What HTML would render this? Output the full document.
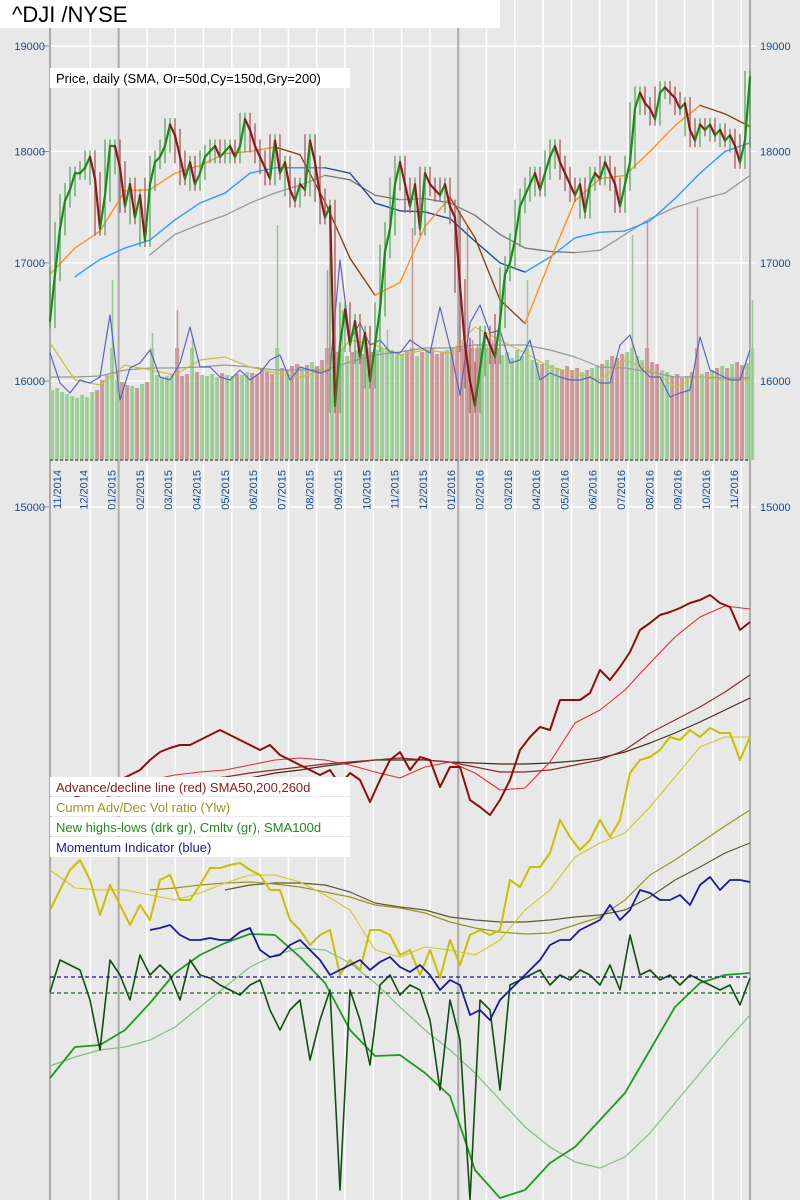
<!DOCTYPE html>
<html><head><meta charset="utf-8"><style>
html,body{margin:0;padding:0;background:#e8e8e8;}
svg{display:block;font-family:"Liberation Sans",sans-serif;}
</style></head><body>
<svg id="chart" width="800" height="1200" viewBox="0 0 800 1200" xmlns="http://www.w3.org/2000/svg">
<rect x="0" y="0" width="800" height="1200" fill="#e8e8e8"/>
<g id="grid"></g>
<g id="vol"></g>
<g id="lines"></g>
<g id="labels"></g>
<rect x="0" y="0" width="500" height="28" fill="#fff"/>
<text x="12" y="22" font-size="22" fill="#000">^DJI /NYSE</text>
<rect x="50" y="68" width="300" height="20" fill="#fff"/>
<text x="56" y="83" font-size="13" fill="#000">Price, daily (SMA, Or=50d,Cy=150d,Gry=200)</text>
<g>
<rect x="50" y="777" width="300" height="19" fill="#fff"/>
<rect x="50" y="797" width="300" height="19" fill="#fff"/>
<rect x="50" y="817" width="300" height="19" fill="#fff"/>
<rect x="50" y="837" width="300" height="20" fill="#fff"/>
<text x="56" y="792" font-size="13" fill="#8b1a1a">Advance/decline line (red) SMA50,200,260d</text>
<text x="56" y="812" font-size="13" fill="#9a9420">Cumm Adv/Dec Vol ratio (Ylw)</text>
<text x="56" y="832" font-size="13" fill="#1f8a1f">New highs-lows (drk gr), Cmltv (gr), SMA100d</text>
<text x="56" y="852" font-size="13" fill="#1a1a90">Momentum Indicator (blue)</text>
</g>
</svg>
<script>
// ---- data ----
const months = ['11/2014','12/2014','01/2015','02/2015','03/2015','04/2015','05/2015','06/2015','07/2015','08/2015','09/2015','10/2015','11/2015','12/2015','01/2016','02/2016','03/2016','04/2016','05/2016','06/2016','07/2016','08/2016','09/2016','10/2016','11/2016'];
const priceTicks = [19000,18000,17000,16000,15000];
const price = [16500,16900,17300,17550,17650,17800,17800,17850,17950,17750,
17300,17600,18050,18050,17850,17500,17700,17400,17600,17200,
17700,17900,17950,18050,18250,18150,17950,17750,17900,17700,
17800,17950,18000,18050,17950,18000,18050,17950,18050,18300,
18200,18050,17950,17850,17750,18100,17800,17900,17650,17550,
17700,17650,18100,17900,17600,17400,17500,15800,16300,16600,
16300,16500,16200,16400,16000,16300,16600,17100,17300,17700,
17900,17700,17500,17700,17300,17800,17700,17650,17600,17700,
17500,17400,16800,16300,16000,15800,16100,16400,16300,16200,
16500,16900,17000,17200,17500,17600,17700,17800,17650,17800,
17950,18050,17900,17800,17700,17600,17700,17450,17700,17800,
17750,17900,17800,17700,17500,17700,17900,18400,18550,18450,
18400,18300,18550,18600,18550,18500,18400,18450,18200,18100,
18250,18200,18250,18150,18200,18100,18150,18050,17900,18100,
18700];
const volume = [70,72,68,66,64,62,65,63,68,70,
80,85,180,80,78,75,74,72,76,78,
127,85,82,84,86,150,84,86,120,88,
85,84,86,83,87,85,84,86,85,88,
87,86,90,88,86,235,92,90,94,96,
92,95,98,94,100,190,105,108,150,104,
108,110,106,112,108,110,112,130,110,108,
106,110,232,104,108,110,112,106,108,110,
112,115,118,235,120,116,118,114,120,112,
105,108,102,110,104,180,100,98,96,100,
95,92,90,94,90,92,88,90,92,94,
96,100,104,102,106,108,225,104,100,240,
98,96,90,88,84,86,82,84,88,253,
86,88,90,92,94,92,96,98,95,97,
160];
const sma50 = [16900,17130,17280,17640,17650,17800,17870,17980,18000,18040,17970,17540,17040,16720,16830,17320,17580,17220,16680,16480,17020,17550,17750,17780,18000,18240,18430,18350,18230];
const sma150 = [16880,17030,17130,17200,17380,17530,17620,17800,17850,17850,17850,17800,17530,17460,17450,17390,17190,17000,16920,17050,17220,17270,17280,17370,17570,17800,18000,18080];
const sma200 = [17070,17250,17340,17420,17530,17620,17690,17780,17740,17600,17560,17570,17530,17420,17250,17130,17100,17090,17110,17250,17390,17490,17560,17620,17780];
const volIndicator = [107,77,67,80,77,83,145,60,92,97,110,83,80,97,133,93,93,83,80,90,80,87,100,105,80,93,90,87,90,200,120,137,115,120,108,107,120,113,107,153,113,65,137,155,127,130,97,100,120,80,87,83,80,80,83,77,77,115,125,93,83,83,63,67,70,123,90,85,80,80,110];
const volAvgYellow = [117,80,75,95,90,85,100,103,93,87,83,90,120,115,105,110,107,133,120,107,93,87,80,100,90,73,83,80,80];
const volAvgGray = [83,83,84,90,92,92,93,95,93,90,90,90,98,105,108,112,112,115,115,115,110,103,93,92,88,83,83,82,82];
const adLine = [395,400,400,405,410,410,415,420,425,430,440,448,452,455,455,460,465,470,465,460,455,450,455,445,440,435,430,425,430,415,427,420,398,420,440,448,430,443,440,413,433,433,400,393,385,400,420,450,463,473,470,500,500,500,507,530,520,533,548,570,577,585,588,592,597,600,605,597,593,570,578];
const adSma50 = [390,395,400,410,420,425,428,430,435,440,442,440,435,428,422,433,438,427,410,412,438,477,490,510,537,563,583,594,591];
const adSma200 = [410,415,420,423,427,430,433,436,438,440,442,440,438,433,428,428,430,435,440,450,467,480,493,508,525];
const adSma260 = [418,422,427,430,434,437,440,440,440,438,437,436,436,437,439,442,448,457,467,478,490,502];
const volRatio = [290,310,330,340,320,285,315,295,275,295,280,320,325,300,300,315,332,332,335,337,330,325,310,310,280,270,255,265,270,225,240,230,270,270,265,245,250,225,250,222,260,235,265,270,265,270,320,313,333,333,347,380,363,350,360,380,363,380,427,440,443,450,463,460,470,463,472,467,467,440,463];
const volRatioSma = [330,312,310,310,305,300,307,317,325,325,318,305,290,250,243,253,250,245,260,290,310,343,357,367,393,423,453,463,463];
const volRatioLong1 = [310,312,315,317,318,316,313,308,303,295,292,287,278,272,268,266,267,275,283,300,325,340,357,374,390];
const volRatioLong2 = [310,315,317,317,315,308,297,293,290,283,280,278,278,280,283,285,290,303,320,333,347,357];
const newHighsLows = [208,240,235,230,200,150,240,225,200,245,225,235,225,200,240,225,222,215,210,205,215,220,190,170,190,200,140,180,210,10,210,180,135,215,225,205,215,210,180,110,200,160,0,200,190,110,215,220,225,230,215,225,220,230,225,215,235,210,265,225,230,220,225,215,225,220,215,210,215,195,222];
const nhnlCumulative = [122,153,155,170,197,227,245,257,266,265,243,217,170,144,145,127,104,30,2,10,37,53,80,107,150,193,217,225,227];
const nhnlSma100 = [134,143,150,153,160,173,193,213,233,245,252,250,237,217,193,170,150,127,100,73,53,38,32,43,67,97,127,157,185];
const momentum = [270,272,275,265,260,260,262,260,260,268,272,250,243,245,255,260,250,240,225,230,235,240,230,238,243,233,228,235,225,210,220,215,185,190,180,200,210,220,230,240,255,260,260,270,275,280,295,280,290,310,307,300,300,305,295,315,323,310,320,320,318];

// ---- scales ----
const X0 = 50, X1 = 750, UNITS = 140;
function xScale(t){ return X0 + (X1 - X0) * t / UNITS; }
const LN_TOP = Math.log(19000);
function yPrice(p){ return 46 + 1950 * (LN_TOP - Math.log(p)); }
function yVol(v){ return 460 - v; }
function yLow(v){ return 1200 - v; }
function monthX(k){ return 62 + 28.3 * k; }
const VOL_BODY_MAX = 112;

const NS = 'http://www.w3.org/2000/svg';
function mk(tag, attrs, parent){
  const e = document.createElementNS(NS, tag);
  for (const k in attrs) e.setAttribute(k, attrs[k]);
  parent.appendChild(e);
  return e;
}
const grid = document.getElementById('grid');
const volG = document.getElementById('vol');
const lines = document.getElementById('lines');
const labels = document.getElementById('labels');

priceTicks.forEach(function(p){
  const y = yPrice(p);
  const l = mk('line', {x1:42, x2:756, y1:y, y2:y, stroke:'#fff', 'stroke-width':1.5}, grid);
  
  
  const tl = mk('line', {x1:42, x2:50, y1:y, y2:y, stroke:'#888', 'stroke-width':1}, grid);
  
  
  const t1 = mk('text', {x:45, y:y+4, 'font-size':11, fill:'#1a4a8a', 'text-anchor':'end'}, labels);
  t1.textContent = p;
  
  
  const t2 = mk('text', {x:760, y:y+4, 'font-size':11, fill:'#1a4a8a'}, labels);
  t2.textContent = p;
  
  
});
months.forEach(function(m, k){
  const x = monthX(k);
  if (k > 0) {
    const isYear = m.indexOf('01/') === 0;
    const l = mk('line', {x1:x, x2:x, y1:0, y2:1200, stroke:isYear ? '#aaa' : '#fff', 'stroke-width':isYear ? 2 : 1.5}, grid);
    
    
  }
  const t = mk('text', {x:0, y:0, 'font-size':11, fill:'#1a4a8a', 'text-anchor':'end', transform:'translate(' + (x + (k === 0 ? -1 : -3)) + ',470) rotate(-90)'}, labels);
  t.textContent = m;
  
  
});
[X0, X1].forEach(function(x){
  const l = mk('line', {x1:x, x2:x, y1:0, y2:1200, stroke:'#aaa', 'stroke-width':2}, grid);
  
  
});

// volume bars
volume.forEach(function(v, i){
  const up = i === 0 ? true : price[i] >= price[i-1];
  const x = xScale(i);
  const w = xScale(i+1) - x;
  const body = Math.min(v, VOL_BODY_MAX);
  const col = up ? '#a8d3a4' : '#cfa2a2';
  const r = mk('rect', {x:x, y:yVol(body), width:w-0.8, height:body, fill:col}, volG);
  
  
  const s = mk('line', {x1:x+w/2, x2:x+w/2, y1:yVol(0), y2:yVol(v), stroke:up ? '#98c894' : '#c89494', 'stroke-width':1.5}, volG);
  
  
});
const vb = mk('line', {x1:X0, x2:X1, y1:yVol(0), y2:yVol(0), stroke:'#777', 'stroke-width':2, 'stroke-dasharray':'3,2'}, volG);



function poly(vals, unitStep, startUnit, yf, color, width, name, opacity){
  const pts = vals.map(function(v, i){ return xScale(startUnit + i*unitStep).toFixed(1) + ',' + yf(v).toFixed(1); }).join(' ');
  const p = mk('polyline', {points:pts, fill:'none', stroke:color, 'stroke-width':width, 'stroke-linejoin':'round', opacity:opacity || 1}, lines);
  
  
  return p;
}
function slopeColored(vals, unitStep, startUnit, yf, upColor, downColor, width, name){
  for (let i = 1; i < vals.length; i++) {
    const c = vals[i] >= vals[i-1] ? upColor : downColor;
    const s = mk('line', {x1:xScale(startUnit+(i-1)*unitStep), y1:yf(vals[i-1]), x2:xScale(startUnit+i*unitStep), y2:yf(vals[i]), stroke:c, 'stroke-width':width, 'stroke-linecap':'round'}, lines);
    
    
  }
}

poly(volAvgGray, 5, 0, yVol, '#999', 1.2, 'volume-avg-gray');
poly(volAvgYellow, 5, 0, yVol, '#c8c040', 1.2, 'volume-avg-yellow');
poly(volIndicator, 2, 0, yVol, '#5a64c0', 1.2, 'volume-indicator-blue');

slopeColored(sma200, 5, 20, yPrice, '#999', '#777', 1.3, 'sma200-line');
slopeColored(sma150, 5, 5, yPrice, '#3399ff', '#1f4f8f', 1.4, 'sma150-line');
slopeColored(sma50, 5, 0, yPrice, '#ff9020', '#8b4513', 1.4, 'sma50-line');

// price range bars (derived from neighbouring closes)
price.forEach(function(p, i){
  const a = i > 0 ? price[i-1] : p;
  const b = i < price.length - 1 ? price[i+1] : p;
  const hi = Math.max(p, a, b) + 60, lo = Math.min(p, a, b) - 60;
  const up = i === 0 ? true : p >= a;
  const xm = (xScale(i) + xScale(i+1)) / 2 - 2.5;
  const r = mk('line', {x1:xm, x2:xm, y1:yPrice(hi), y2:yPrice(lo), stroke:up ? '#5aa85a' : '#a85a5a', 'stroke-width':1.6, opacity:0.8}, lines);
  
  
});
slopeColored(price, 1, 0, yPrice, '#1a8a1a', '#8b1a1a', 2.2, 'price-bar');

poly(adSma260, 5, 35, yLow, '#4a2a1a', 1.2, 'ad-sma260');
poly(adSma200, 5, 20, yLow, '#8b2a2a', 1.2, 'ad-sma200');
poly(adSma50, 5, 0, yLow, '#e03030', 1.1, 'ad-sma50');
poly(adLine, 2, 0, yLow, '#8b0f0f', 2, 'advance-decline-line');
poly(volRatioLong2, 5, 35, yLow, '#5a5a30', 1.2, 'vol-ratio-long-sma2');
poly(volRatioLong1, 5, 20, yLow, '#9a9420', 1.2, 'vol-ratio-long-sma1');
poly(volRatioSma, 5, 0, yLow, '#d0c820', 1.1, 'vol-ratio-sma');
poly(volRatio, 2, 0, yLow, '#c8c000', 2, 'cumm-adv-dec-vol-ratio');
poly(nhnlSma100, 5, 0, yLow, '#80c080', 1.2, 'new-highs-lows-sma100');
poly(nhnlCumulative, 5, 0, yLow, '#1f9a1f', 1.8, 'new-highs-lows-cumulative');
poly(newHighsLows, 2, 0, yLow, '#0f4f0f', 1.6, 'new-highs-lows');
poly(momentum, 2, 20, yLow, '#1a1a90', 1.8, 'momentum-indicator');
const d1 = mk('line', {x1:X0, x2:X1, y1:977, y2:977, stroke:'#1a1a80', 'stroke-width':1.2, 'stroke-dasharray':'4,3'}, lines);


const d2 = mk('line', {x1:X0, x2:X1, y1:993, y2:993, stroke:'#2a5a2a', 'stroke-width':1.2, 'stroke-dasharray':'4,3'}, lines);


</script>
</body></html>
